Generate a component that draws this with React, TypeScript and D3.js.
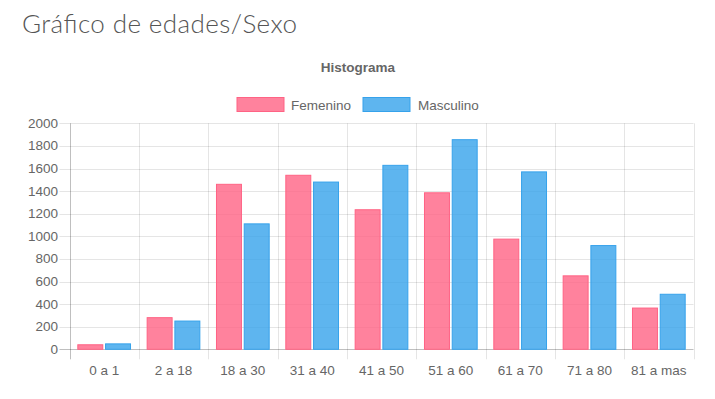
import React from 'react';
import * as d3 from 'd3';

const categories = ['0 a 1', '2 a 18', '18 a 30', '31 a 40', '41 a 50', '51 a 60', '61 a 70', '71 a 80', '81 a mas'];
const femenino = [40, 280, 1460, 1540, 1235, 1385, 975, 650, 365];
const masculino = [48, 250, 1110, 1480, 1628, 1855, 1570, 918, 487];
const yTicks = [0, 200, 400, 600, 800, 1000, 1200, 1400, 1600, 1800, 2000];

const series = [
  { name: 'Femenino', values: femenino, fill: 'rgba(255,99,132,0.8)', stroke: 'rgb(255,99,132)' },
  { name: 'Masculino', values: masculino, fill: 'rgba(54,162,235,0.8)', stroke: 'rgb(54,162,235)' },
];

const width = 715;
const height = 399;
const marginLeft = 69.5;
const marginRight = 21.5;
const plotTop = 123.3;
const plotBottom = 349.3;

const App: React.FC = () => {
  const x = d3.scaleBand<string>()
    .domain(categories)
    .range([marginLeft, width - marginRight]);

  const y = d3.scaleLinear()
    .domain([0, 2000])
    .range([plotBottom, plotTop]);

  // chart.js-like: categoryPercentage 0.8, barPercentage 0.9
  const inner = d3.scaleBand<string>()
    .domain(series.map(s => s.name))
    .range([x.bandwidth() * 0.1, x.bandwidth() * 0.9]);
  const barW = inner.bandwidth() * 0.9;
  const barOff = inner.bandwidth() * 0.05;

  const font = 'Liberation Sans, Arial, sans-serif';
  const fs = 13.5;
  const gridX = [...categories.map(c => x(c) as number), width - marginRight];

  return (
    <svg width={width} height={height} style={{ position: 'absolute', left: 0, top: 0, background: '#fff' }}>
      <text x={22} y={33} fontFamily="Lato, sans-serif" fontWeight={300} fontSize={26} fill="#555"
        textLength={275} lengthAdjust="spacing">
        Gráfico de edades/Sexo
      </text>
      <text x={358} y={72} textAnchor="middle" fontFamily={font} fontWeight="bold" fontSize={fs} fill="#666">
        Histograma
      </text>

      {/* legend */}
      <g fontFamily={font} fontSize={fs} fill="#666">
        <rect x={237} y={97.5} width={47} height={14} fill={series[0].fill} stroke={series[0].stroke} />
        <text x={291} y={109.5}>Femenino</text>
        <rect x={363} y={97.5} width={47} height={14} fill={series[1].fill} stroke={series[1].stroke} />
        <text x={418} y={109.5}>Masculino</text>
      </g>

      {/* horizontal grid */}
      {yTicks.map(t => (
        <line key={'h' + t} x1={marginLeft - 10} x2={width - marginRight} y1={Math.round(y(t)) + 0.5} y2={Math.round(y(t)) + 0.5}
          stroke={t === 0 ? 'rgba(0,0,0,0.25)' : 'rgba(0,0,0,0.1)'} />
      ))}
      {/* vertical grid */}
      {gridX.map((gx, i) => (
        <line key={'v' + i} x1={Math.round(gx) + 0.5} x2={Math.round(gx) + 0.5} y1={plotTop} y2={plotBottom + 10}
          stroke={i === 0 ? 'rgba(0,0,0,0.25)' : 'rgba(0,0,0,0.1)'} />
      ))}

      {/* y labels */}
      <g fontFamily={font} fontSize={fs} fill="#666" textAnchor="end">
        {yTicks.map(t => (
          <text key={'yl' + t} x={58} y={y(t) + 4.5}>{t}</text>
        ))}
      </g>
      {/* x labels */}
      <g fontFamily={font} fontSize={fs} fill="#666" textAnchor="middle">
        {categories.map(c => (
          <text key={'xl' + c} x={(x(c) as number) + x.bandwidth() / 2} y={375}>{c}</text>
        ))}
      </g>

      {/* bars */}
      {series.map(s => (
        <g key={s.name}>
          {categories.map((c, i) => {
            const bx = (x(c) as number) + (inner(s.name) as number) + barOff;
            const by = y(s.values[i]);
            return (
              <rect key={c} x={bx} y={by} width={barW} height={plotBottom - by}
                fill={s.fill} stroke={s.stroke} strokeWidth={1} />
            );
          })}
        </g>
      ))}
    </svg>
  );
};

export default App;
